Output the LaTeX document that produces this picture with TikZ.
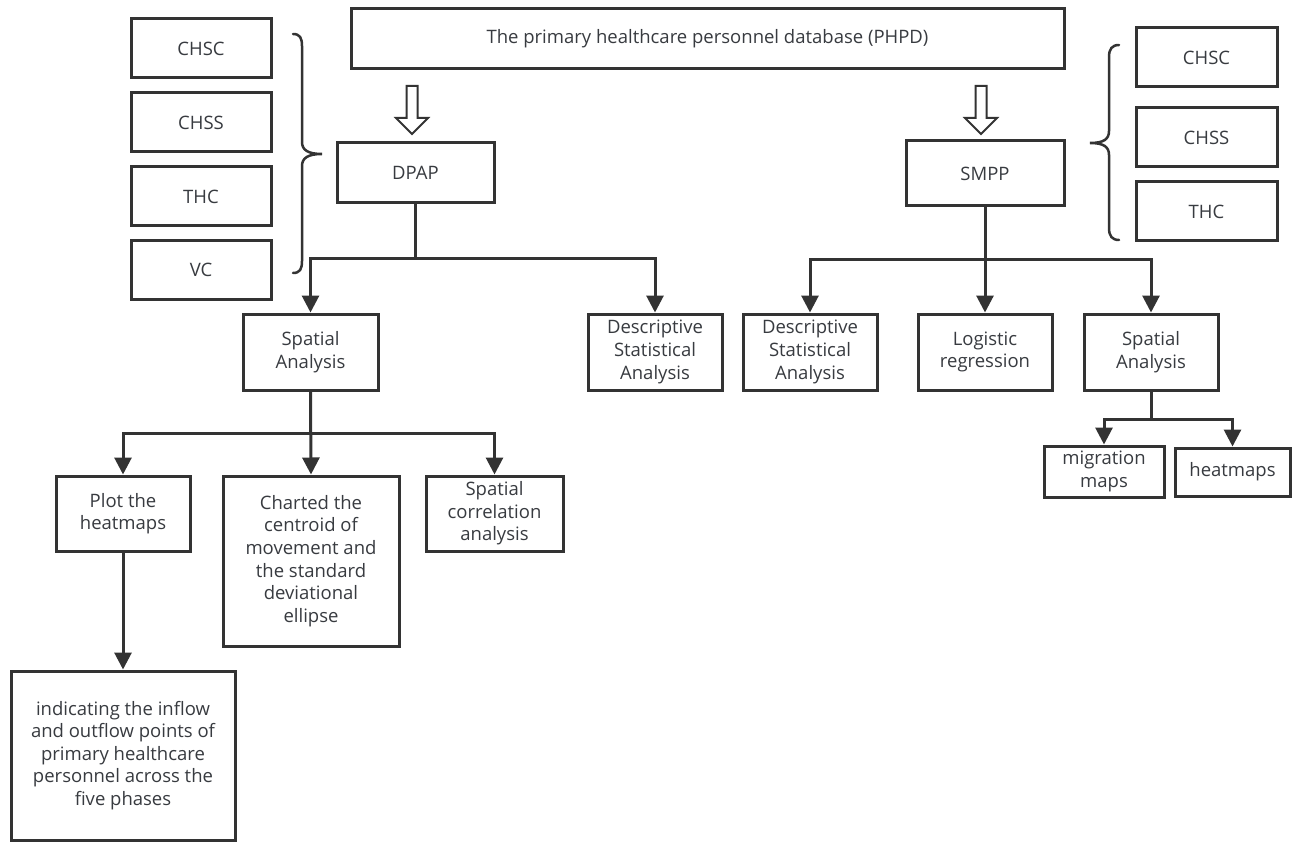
\documentclass[tikz,border=0pt]{standalone}
\usepackage{fontspec}
\setmainfont{Open Sans}
\usetikzlibrary{arrows.meta}
\definecolor{ink}{HTML}{333333}
\definecolor{txt}{HTML}{383B40}
\newcommand{\myfs}{\fontsize{18.5}{22.6}\selectfont}
\tikzset{
  box/.style={draw=ink, line width=3pt, text=txt, font=\myfs, align=center, inner sep=0pt},
  conn/.style={draw=ink, line width=3pt},
  arr/.style={conn, -{Triangle[length=17pt,width=17pt]}},
  hollow/.style={draw=ink, line width=2pt, fill=white, line join=miter},
  brace/.style={draw=ink, line width=2.5pt, line cap=round}
}
\begin{document}
\begin{tikzpicture}[x=1pt,y=-1pt]
\useasboundingbox (0,0) rectangle (1292,842);
\fill[white] (0,0) rectangle (1292,842);
% top
\node[box, minimum width=713pt, minimum height=60pt] (phpd) at (707.5,39) {The primary healthcare personnel database (PHPD)};
% left list
\node[box, minimum width=140pt, minimum height=59pt] (lchsc) at (201,48.5) {CHSC};
\node[box, minimum width=140pt, minimum height=59pt] (lchss) at (201,122.5) {CHSS};
\node[box, minimum width=140pt, minimum height=59pt] (lthc) at (201,196.5) {THC};
\node[box, minimum width=140pt, minimum height=59pt] (lvc) at (201,270) {VC};
% right list
\node[box, minimum width=141pt, minimum height=59pt] (rchsc) at (1206.5,57.5) {CHSC};
\node[box, minimum width=141pt, minimum height=59pt] (rchss) at (1206.5,137.5) {CHSS};
\node[box, minimum width=141pt, minimum height=59pt] (rthc) at (1206.5,211.5) {THC};
% level 1
\node[box, minimum width=157pt, minimum height=60pt] (dpap) at (415.5,173) {DPAP};
\node[box, minimum width=158pt, minimum height=65pt] (smpp) at (985,173.5) {SMPP};
% level 2
\node[box, minimum width=135pt, minimum height=76pt] (lspa) at (310.5,352) {Spatial\\Analysis};
\node[box, minimum width=134pt, minimum height=76pt] (ldsa) at (655,352) {Descriptive\\Statistical\\Analysis};
\node[box, minimum width=134pt, minimum height=76pt] (rdsa) at (810,352) {Descriptive\\Statistical\\Analysis};
\node[box, minimum width=134pt, minimum height=76pt] (logr) at (985,352) {Logistic\\regression};
\node[box, minimum width=134pt, minimum height=76pt] (rspa) at (1151,352) {Spatial\\Analysis};
% level 3 left
\node[box, minimum width=134pt, minimum height=75pt] (plot) at (123,513.5) {Plot the\\heatmaps};
\node[box, minimum width=176pt, minimum height=170pt] (chart) at (311,561) {Charted the\\centroid of\\movement and\\the standard\\deviational\\ellipse};
\node[box, minimum width=137pt, minimum height=75pt] (scorr) at (494.5,513.5) {Spatial\\correlation\\analysis};
\node[box, minimum width=224pt, minimum height=169pt] (indic) at (123,755.5) {indicating the inflow\\and outflow points of\\primary healthcare\\personnel across the\\five phases};
% level 3 right
\node[box, minimum width=120pt, minimum height=51pt] (migr) at (1104,471.5) {migration\\maps};
\node[box, minimum width=115pt, minimum height=48pt] (heat) at (1232.5,472) {heatmaps};
% hollow arrows
\coordinate (ha1) at (412,86);
\coordinate (ha2) at (981,86);
\foreach \c in {ha1,ha2}{
  \draw[hollow] (\c) +(-5.5,0) -- +(-5.5,32) -- +(-16,32) -- +(0,48) -- +(16,32) -- +(5.5,32) -- +(5.5,0) -- cycle;
}
% braces
\draw[brace] (293,34) .. controls (300,34) and (302,38) .. (302,46) -- (302,142) .. controls (302,150) and (308,154) .. (322,154) .. controls (308,154) and (302,158) .. (302,166) -- (302,261) .. controls (302,269) and (300,273) .. (293,273);
\draw[brace] (1119,45) .. controls (1112,45) and (1109,49) .. (1109,57) -- (1109,131) .. controls (1109,139) and (1104,143) .. (1090,143) .. controls (1104,143) and (1109,147) .. (1109,155) -- (1109,228) .. controls (1109,236) and (1112,240) .. (1119,240);
% connectors
\coordinate (jdpap) at (dpap.south |- 0,259);
\draw[conn] (dpap.south) -- (jdpap);
\draw[arr] (jdpap) -| (lspa.north);
\draw[arr] (jdpap) -| (ldsa.north);
\coordinate (jsmpp) at (smpp.south |- 0,260);
\draw[arr] (smpp.south) -- (logr.north);
\draw[arr] (jsmpp) -| (rdsa.north);
\draw[arr] (jsmpp) -| (rspa.north);
\coordinate (jlspa) at (lspa.south |- 0,433);
\draw[arr] (lspa.south) -- (chart.north);
\draw[arr] (jlspa) -| (plot.north);
\draw[arr] (jlspa) -| (scorr.north);
\draw[arr] (plot.south) -- (indic.north);
\coordinate (jrspa) at (rspa.south |- 0,419);
\draw[conn] (rspa.south) -- (jrspa);
\draw[arr] (jrspa) -| (migr.north);
\draw[arr] (jrspa) -| (heat.north);
\end{tikzpicture}
\end{document}
